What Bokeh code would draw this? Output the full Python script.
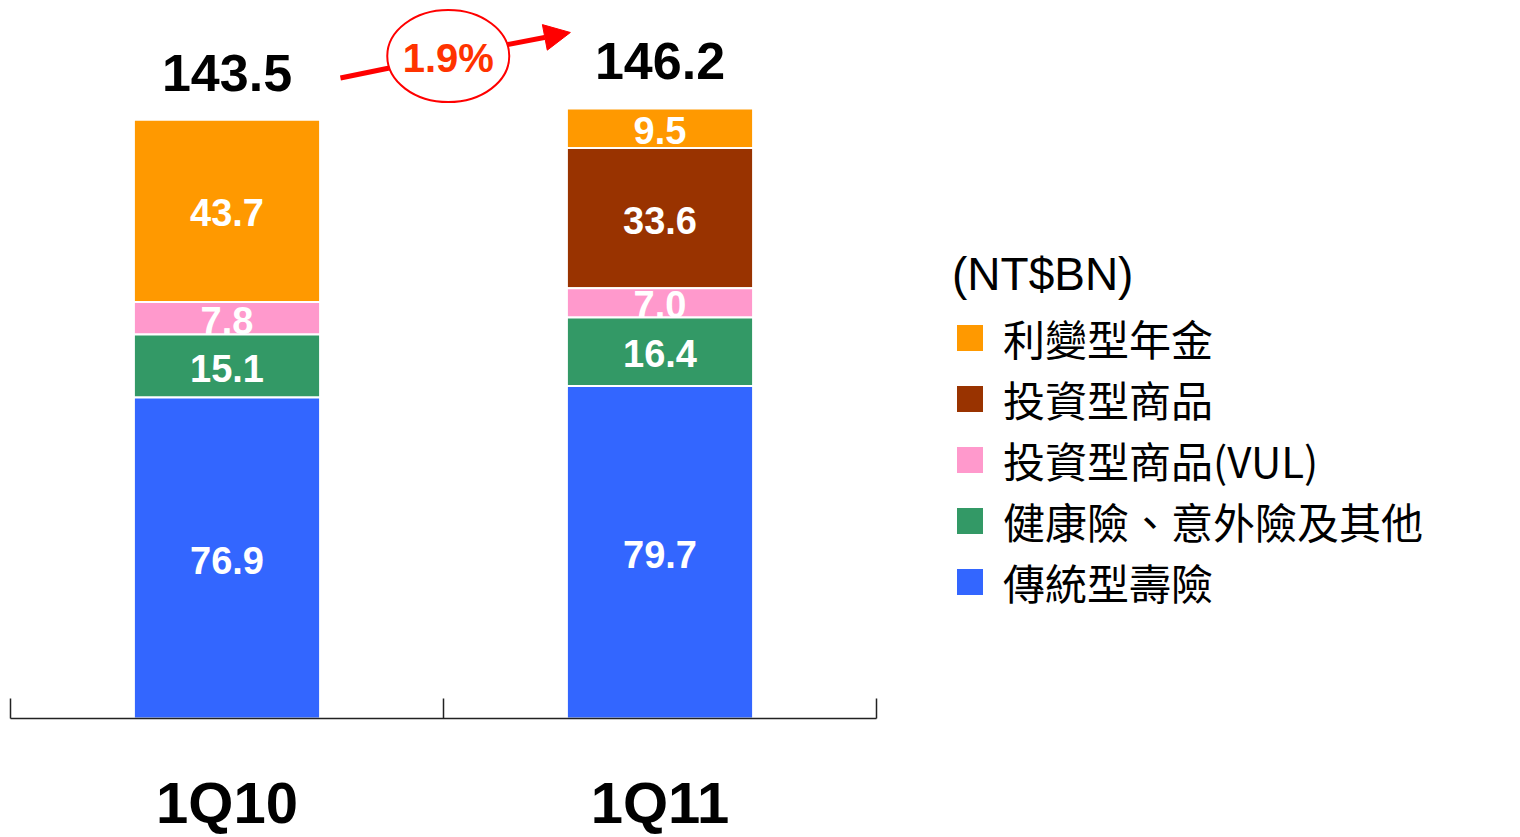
from bokeh.plotting import figure
from bokeh.models import (ColumnDataSource, Range1d, LinearAxis, FixedTicker, Legend, LegendItem,
                          Arrow, NormalHead)
from bokeh.core.properties import value
from bokeh.embed import file_html
from bokeh.resources import INLINE

# ---------------- data ----------------
categories = ["1Q10", "1Q11"]
traditional_life = [76.9, 79.7]          # 傳統型壽險
health_accident_other = [15.1, 16.4]     # 健康險、意外險及其他
investment_vul = [7.8, 7.0]              # 投資型商品(VUL)
investment_products = [0.0, 33.6]        # 投資型商品
interest_annuity = [43.7, 9.5]           # 利變型年金
totals = [143.5, 146.2]
series_names = ["傳統型壽險", "健康險、意外險及其他", "投資型商品(VUL)", "投資型商品", "利變型年金"]
series_values = [traditional_life, health_accident_other, investment_vul, investment_products, interest_annuity]
colors = ["#3366FF", "#339966", "#FF99CC", "#993300", "#FF9900"]
unit_label = "(NT$BN)"

# category slots: each category occupies one unit, centred at i + 0.5
n = len(categories)
centers = [i + 0.5 for i in range(n)]
bounds = list(range(n + 1))

# layout: plot frame spans the page; the category area takes the left 866 px of it
W, H = 1520, 837
LEFT = 10
frame_w = W - LEFT
x_end = n * frame_w / 866.0

# ---------------- figure ----------------
p = figure(x_range=Range1d(0, x_end), y_range=Range1d(0, 170.15),
           width=W, height=H, output_backend="svg", toolbar_location=None,
           x_axis_location=None, y_axis_location=None,
           min_border_left=LEFT, min_border_top=8, min_border_right=0, min_border_bottom=0)
p.outline_line_color = None
p.grid.visible = False
p.background_fill_color = "white"

xaxis = LinearAxis(ticker=FixedTicker(ticks=centers, minor_ticks=bounds),
                   bounds=(0, n),
                   major_label_overrides={c: lab for c, lab in zip(centers, categories)},
                   major_tick_line_color=None,
                   minor_tick_in=20, minor_tick_out=0,
                   minor_tick_line_color="#222222", minor_tick_line_width=1.5,
                   axis_line_color="#222222", axis_line_width=1.5,
                   major_label_text_font="Liberation Sans",
                   major_label_text_font_style="bold",
                   major_label_text_font_size="58px",
                   major_label_text_color="black",
                   major_label_standoff=45)
p.add_layout(xaxis, "below")

# ---------------- stacked bars (drawn top-down so lower segments clip labels) ----------------
bottoms = []
acc = [0.0] * n
for vals in series_values:
    bottoms.append(list(acc))
    acc = [a + v for a, v in zip(acc, vals)]

renderers = {}
for idx in reversed(range(len(series_values))):
    vals = series_values[idx]
    xs, bots, tops, mids, labels = [], [], [], [], []
    for c, b, v in zip(centers, bottoms[idx], vals):
        if v > 0:
            xs.append(c); bots.append(b); tops.append(b + v); mids.append(b + v / 2)
            labels.append(f"{v:.1f}")
    src = ColumnDataSource(dict(x=xs, bottom=bots, top=tops, mid=mids, label=labels))
    r = p.vbar(x="x", bottom="bottom", top="top", width=0.43, source=src,
               fill_color=colors[idx], line_color="white", line_width=2)
    renderers[idx] = r
    p.text(x="x", y="mid", text="label", source=src, text_color="white",
           text_font=value("Liberation Sans"), text_font_style="bold",
           text_font_size="38px", text_align="center", text_baseline="middle", y_offset=2)

# totals above bars
tot_src = ColumnDataSource(dict(x=centers, y=totals, label=[f"{t:.1f}" for t in totals]))
p.text(x="x", y="y", text="label", source=tot_src, text_color="black",
       text_font=value("Liberation Sans"), text_font_style="bold",
       text_font_size="52px", text_align="center", text_baseline="alphabetic", y_offset=-47)

# growth annotation
growth = (totals[1] / totals[0] - 1) * 100
mid_x = 1.011
ell_y = (totals[0] + totals[1]) / 2 + 13.9
p.add_layout(Arrow(x_start=0.762, y_start=totals[0] + 10.0, x_end=0.875, y_end=totals[0] + 12.4,
                   end=None, line_color="#FF0000", line_width=5))
p.add_layout(Arrow(x_start=1.147, y_start=totals[1] + 15.3, x_end=1.293, y_end=totals[1] + 18.2,
                   end=NormalHead(size=26, fill_color="#FF0000", line_color="#FF0000"),
                   line_color="#FF0000", line_width=5))
p.ellipse(x=[mid_x], y=[ell_y], width=122, height=92, width_units="screen", height_units="screen",
          fill_color="white", line_color="#FF0000", line_width=2)
p.text(x=[mid_x], y=[ell_y], text=[f"{growth:.1f}%"], text_color="#FF3300",
       text_font=value("Liberation Sans"), text_font_style="bold",
       text_font_size="40px", text_align="center", text_baseline="middle", y_offset=2)

# ---------------- legend ----------------
items = [LegendItem(label=series_names[i], renderers=[renderers[i]]) for i in reversed(range(len(series_names)))]
legend = Legend(items=items, location=(942, 106), title=unit_label,
                title_text_font="Liberation Sans", title_text_font_size="46px",
                title_text_font_style="normal", title_text_color="black", title_standoff=6,
                label_text_font="Noto Sans CJK TC", label_text_font_size="42px",
                label_text_color="black",
                glyph_width=35, glyph_height=35, label_standoff=16, spacing=0, label_height=60,
                padding=0, margin=0, border_line_color=None, background_fill_alpha=0)
p.add_layout(legend)

open("out.html", "w").write(file_html(p, INLINE))
